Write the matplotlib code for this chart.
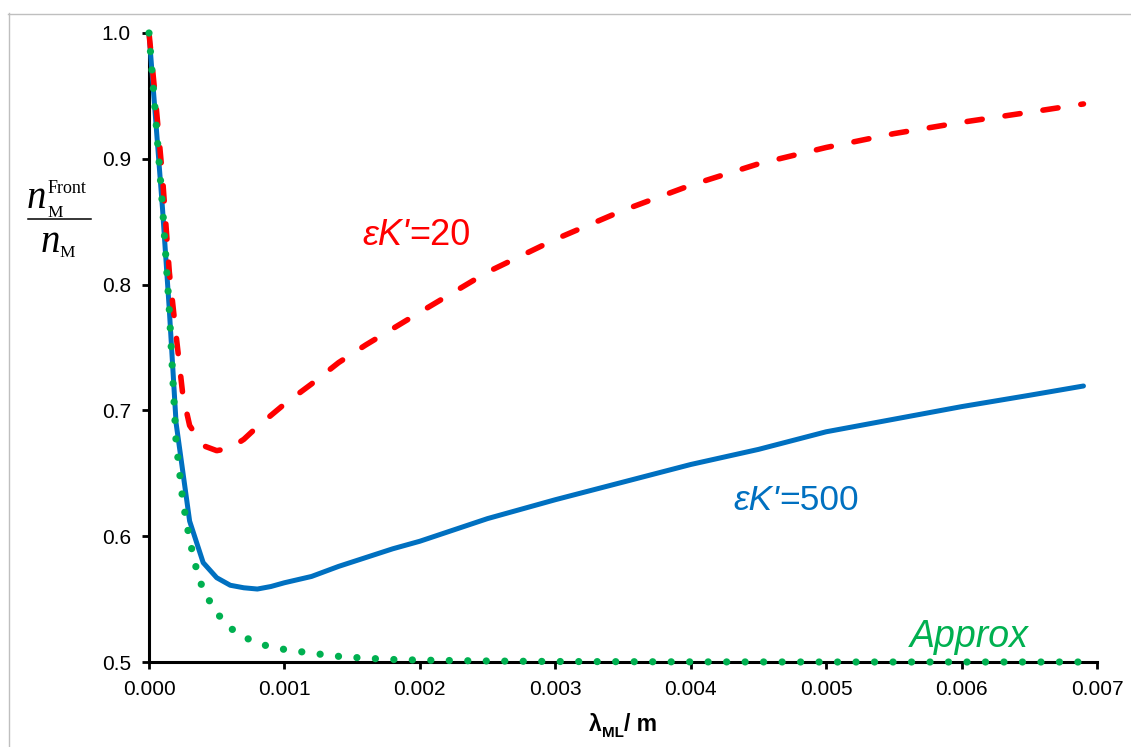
import matplotlib
matplotlib.use("Agg")
import matplotlib.pyplot as plt
from matplotlib.lines import Line2D

# wavelength lambda_ML in m
x_500 = [0, 0.00005, 0.0001, 0.00015, 0.0002, 0.0003, 0.0004, 0.0005, 0.0006, 0.0007,
         0.0008, 0.0009, 0.001, 0.0012, 0.0014, 0.0016, 0.0018, 0.002, 0.0025, 0.003,
         0.0035, 0.004, 0.0045, 0.005, 0.0055, 0.006, 0.0065, 0.0069]
y_500 = [1.0, 0.93, 0.86, 0.78, 0.69, 0.612, 0.579, 0.567, 0.561, 0.559,
         0.558, 0.560, 0.563, 0.568, 0.576, 0.583, 0.590, 0.596, 0.614, 0.629,
         0.643, 0.657, 0.669, 0.683, 0.693, 0.703, 0.712, 0.7194]

x_20 = [0, 0.00005, 0.0001, 0.00015, 0.0002, 0.00025, 0.0003, 0.0004, 0.0005, 0.0006,
        0.0007, 0.0008, 0.0009, 0.001, 0.0012, 0.0014, 0.0016, 0.0018, 0.002, 0.0025,
        0.003, 0.0035, 0.004, 0.0045, 0.005, 0.0055, 0.006, 0.0065, 0.0069]
y_20 = [1.0, 0.945, 0.885, 0.81, 0.76, 0.712, 0.688, 0.672, 0.668, 0.670,
        0.677, 0.687, 0.696, 0.705, 0.721, 0.738, 0.752, 0.765, 0.778, 0.810,
        0.836, 0.859, 0.879, 0.896, 0.909, 0.920, 0.929, 0.937, 0.9436]

x_approx = [0, 0.00005, 0.0001, 0.00015, 0.0002, 0.00025, 0.0003, 0.00035, 0.0004, 0.0005,
            0.0006, 0.0007, 0.0008, 0.0009, 0.001, 0.0012, 0.0014, 0.0016, 0.0018, 0.002,
            0.0025, 0.003, 0.004, 0.005, 0.006, 0.0069]
y_approx = [1.0, 0.932, 0.862, 0.78, 0.675, 0.628, 0.597, 0.574, 0.557, 0.539,
            0.527, 0.520, 0.515, 0.512, 0.510, 0.507, 0.5045, 0.503, 0.502, 0.5015,
            0.5008, 0.5004, 0.5001, 0.5, 0.5, 0.5]

x_ticks = [0, 0.001, 0.002, 0.003, 0.004, 0.005, 0.006, 0.007]
y_ticks = [0.5, 0.6, 0.7, 0.8, 0.9, 1.0]

RED = "#FF0000"
BLUE = "#0070C0"
GREEN = "#00B050"

W, H = 1131, 747
plt.rcParams["font.family"] = ["Liberation Sans", "DejaVu Sans"]

fig = plt.figure(figsize=(W / 100, H / 100), dpi=100)
ax = fig.add_axes([149 / W, 1 - 662 / H, (1097 - 149) / W, (662 - 33) / H])


def fx(px):
    return px / W


def fy(py):
    return 1 - py / H


# thin grey frame of the original chart area
fig.add_artist(Line2D([fx(8), 1], [fy(13.5), fy(13.5)], color="#BFBFBF", lw=1))
fig.add_artist(Line2D([fx(8.5), fx(8.5)], [0, fy(13)], color="#BFBFBF", lw=1))

ax.plot(x_500, y_500, color=BLUE, lw=3.6, solid_capstyle="round", zorder=3, clip_on=False)
ax.plot(x_20, y_20, color=RED, lw=4.0, dashes=(2.75, 4.15), dash_capstyle="round",
        zorder=4, clip_on=False)
ax.plot(x_approx, y_approx, color=GREEN, lw=5.2, dashes=(0.01, 2.55), dash_capstyle="round",
        zorder=5, clip_on=False)

ax.set_xlim(0, 0.007)
ax.set_ylim(0.5, 1.0)
ax.set_xticks(x_ticks)
ax.set_yticks(y_ticks)
ax.set_xticklabels([f"{v:.3f}" for v in x_ticks])
ax.set_yticklabels([f"{v:.1f}" for v in y_ticks])
ax.tick_params(axis="both", direction="out", length=5, width=2, labelsize=15, color="black")
ax.tick_params(axis="y", pad=8)
ax.tick_params(axis="x", pad=8)
for side in ["top", "right"]:
    ax.spines[side].set_visible(False)
for side in ["left", "bottom"]:
    ax.spines[side].set_linewidth(2.2)
    ax.spines[side].set_zorder(2)

# x label: lambda_ML / m
lam = fig.text(fx(589), fy(731), "λ", fontsize=16.5, fontweight="bold", va="baseline")
sub = ax.annotate("ML", xy=(1, 0), xycoords=lam, xytext=(0, -3), textcoords="offset points",
                  fontsize=11, fontweight="bold", va="bottom", ha="left")
ax.annotate("/ m", xy=(1, 0), xycoords=sub, xytext=(0, 3), textcoords="offset points",
            fontsize=16.5, fontweight="bold", va="bottom", ha="left")

# y label: n_M^Front / n_M as a fraction
serif = ["Liberation Serif", "DejaVu Serif"]
fig.text(fx(27), fy(208), "n", family=serif, style="italic", fontsize=28, va="baseline")
fig.text(fx(48), fy(193), "Front", family=serif, fontsize=13, va="baseline")
fig.text(fx(47), fy(217), "M", family=serif, fontsize=12.5, va="baseline")
fig.add_artist(Line2D([fx(28), fx(91)], [fy(219), fy(219)], color="black", lw=1.1))
fig.text(fx(41), fy(252), "n", family=serif, style="italic", fontsize=28, va="baseline")
fig.text(fx(59), fy(257), "M", family=serif, fontsize=12.5, va="baseline")

# curve annotations
t20 = fig.text(fx(362), fy(245), "εK'", color=RED, style="italic", fontsize=26, va="baseline")
ax.annotate("=20", xy=(1, 0), xycoords=t20, color=RED, fontsize=26, va="bottom", ha="left")
t500 = fig.text(fx(733), fy(510), "εK'", color=BLUE, style="italic", fontsize=25.5, va="baseline")
ax.annotate("=500", xy=(1, 0), xycoords=t500, color=BLUE, fontsize=25.5, va="bottom", ha="left")
fig.text(fx(910), fy(647), "Approx", color=GREEN, style="italic", fontsize=27, va="baseline")

fig.savefig("out.png", dpi=100)
